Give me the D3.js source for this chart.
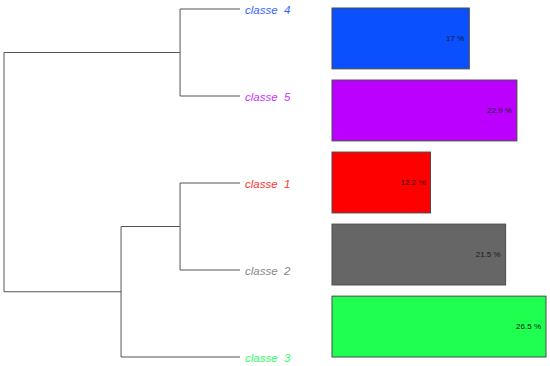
<!DOCTYPE html>
<html>
<head>
<meta charset="utf-8">
<script src="https://cdn.jsdelivr.net/npm/d3@7"></script>
<style>
  html, body { margin: 0; padding: 0; background: #fff; }
</style>
</head>
<body>
<div id="chart"></div>
<script>
// Leaves, top to bottom
const classes = ["classe  4", "classe  5", "classe  1", "classe  2", "classe  3"];
const percents = [17, 22.9, 12.2, 21.5, 26.5];
const barColors = ["#0a50ff", "#bb00ff", "#ff0000", "#666666", "#1fff50"];
const labelColors = ["#3366ff", "#cc33ff", "#ff3333", "#888888", "#33ff66"];

// hclust-style merges: negative = leaf index (1-based), positive = earlier merge
const merges = [[-1, -2], [-3, -4], [2, -5], [1, 3]];
const mergeHeights = [0.254, 0.254, 0.504, 1];

const width = 550;
const height = 366;

const svg = d3.create("svg")
    .attr("width", width)
    .attr("height", height)
    .attr("viewBox", [0, 0, width, height])
    .style("font-family", "'Liberation Sans', Arial, sans-serif");

// Dendrogram scales
const hx = d3.scaleLinear().domain([0, 1]).range([240, 4]);
const ly = d3.scalePoint().domain(d3.range(classes.length)).range([9, 357]);

// Resolve node positions
const nodes = [];
function node(ref) {
  if (ref < 0) return { x: hx(0), y: ly(-ref - 1) };
  return nodes[ref - 1];
}
merges.forEach((m, i) => {
  const a = node(m[0]);
  const b = node(m[1]);
  const x = hx(mergeHeights[i]);
  nodes.push({ x: x, y: (a.y + b.y) / 2, a: a, b: b });
});

const tree = svg.append("g")
    .attr("fill", "none")
    .attr("stroke", "#555")
    .attr("stroke-width", 1);

nodes.forEach(n => {
  const path = d3.path();
  path.moveTo(n.a.x, n.a.y);
  path.lineTo(n.x, n.a.y);
  path.lineTo(n.x, n.b.y);
  path.lineTo(n.b.x, n.b.y);
  tree.append("path").attr("d", path.toString());
});

// Leaf labels
svg.append("g")
  .selectAll("text")
  .data(classes)
  .join("text")
    .attr("x", 245)
    .attr("y", (d, i) => ly(i) + 1)
    .attr("dominant-baseline", "central")
    .attr("font-size", "11.5px")
    .attr("font-style", "italic")
    .attr("fill", (d, i) => labelColors[i])
    .style("white-space", "pre")
    .text(d => d);

// Bars
const bx = d3.scaleLinear().domain([0, 26.5]).range([332, 546]);
const by = d3.scaleBand().domain(d3.range(classes.length)).range([8, 357]).paddingInner(0.155);

svg.append("g")
  .selectAll("rect")
  .data(percents)
  .join("rect")
    .attr("x", bx(0))
    .attr("y", (d, i) => by(i))
    .attr("width", d => bx(d) - bx(0))
    .attr("height", by.bandwidth())
    .attr("fill", (d, i) => barColors[i])
    .attr("stroke", "#4a4a4a")
    .attr("stroke-width", 1);

svg.append("g")
  .selectAll("text")
  .data(percents)
  .join("text")
    .attr("x", d => bx(d) - 5)
    .attr("y", (d, i) => by(i) + by.bandwidth() / 2)
    .attr("dominant-baseline", "central")
    .attr("text-anchor", "end")
    .attr("font-size", "8px")
    .attr("fill", "#1a1a1a")
    .text(d => `${d} %`);

document.getElementById("chart").appendChild(svg.node());
</script>
</body>
</html>
